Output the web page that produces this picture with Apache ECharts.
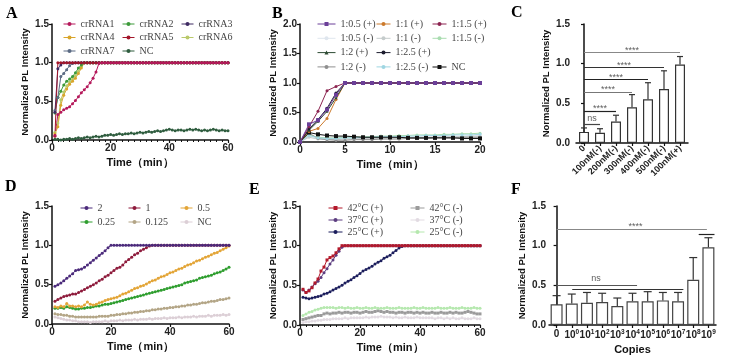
<!DOCTYPE html>
<html>
<head>
<meta charset="utf-8">
<script src="https://cdn.jsdelivr.net/npm/echarts@6/dist/echarts.min.js"></script>
<style>html,body{margin:0;background:#fff}#main{width:730px;height:359px}</style>
</head>
<body>
<div id="main"></div>
<script>
// time points (min)
var minutes60 = [1,2,3,4,5,6,7,8,9,10,11,12,13,14,15,16,17,18,19,20,21,22,23,24,25,26,27,28,29,30,
  31,32,33,34,35,36,37,38,39,40,41,42,43,44,45,46,47,48,49,50,51,52,53,54,55,56,57,58,59,60];
var minutes21 = [0,1,2,3,4,5,6,7,8,9,10,11,12,13,14,15,16,17,18,19,20];

// ---- panel A ----
var crRNA1 = [0.06,0.33,0.36,0.39,0.41,0.43,0.47,0.51,0.56,0.61,
  0.65,0.69,0.74,0.80,0.88,0.99,1,1,1,1,
  1,1,1,1,1,1,1,1,1,1, 1,1,1,1,1,1,1,1,1,1, 1,1,1,1,1,1,1,1,1,1, 1,1,1,1,1,1,1,1,1,1];
var crRNA2 = [0.35,0.55,0.63,0.71,0.76,0.79,0.82,0.87,0.93,0.97,
  1,1,1,1,1,1,1,1,1,1, 1,1,1,1,1,1,1,1,1,1, 1,1,1,1,1,1,1,1,1,1, 1,1,1,1,1,1,1,1,1,1, 1,1,1,1,1,1,1,1,1,1];
var crRNA3 = [0.36,0.92,0.97,1,1,1,1,1,1,1,
  1,1,1,1,1,1,1,1,1,1, 1,1,1,1,1,1,1,1,1,1, 1,1,1,1,1,1,1,1,1,1, 1,1,1,1,1,1,1,1,1,1, 1,1,1,1,1,1,1,1,1,1];
var crRNA4 = [0.08,0.17,0.45,0.58,0.66,0.72,0.76,0.80,0.86,0.93,
  1,1,1,1,1,1,1,1,1,1, 1,1,1,1,1,1,1,1,1,1, 1,1,1,1,1,1,1,1,1,1, 1,1,1,1,1,1,1,1,1,1, 1,1,1,1,1,1,1,1,1,1];
var crRNA5 = [0.05,1,1,1,1,1,1,1,1,1,
  1,1,1,1,1,1,1,1,1,1, 1,1,1,1,1,1,1,1,1,1, 1,1,1,1,1,1,1,1,1,1, 1,1,1,1,1,1,1,1,1,1, 1,1,1,1,1,1,1,1,1,1];
var crRNA6 = [0.10,0.22,0.52,0.62,0.70,0.75,0.79,0.83,0.89,0.95,
  1,1,1,1,1,1,1,1,1,1, 1,1,1,1,1,1,1,1,1,1, 1,1,1,1,1,1,1,1,1,1, 1,1,1,1,1,1,1,1,1,1, 1,1,1,1,1,1,1,1,1,1];
var crRNA7 = [0.38,0.55,0.82,0.86,0.91,0.96,0.99,1,1,1,
  1,1,1,1,1,1,1,1,1,1, 1,1,1,1,1,1,1,1,1,1, 1,1,1,1,1,1,1,1,1,1, 1,1,1,1,1,1,1,1,1,1, 1,1,1,1,1,1,1,1,1,1];
var ncA = [0.01,0.01,0.00,0.01,0.01,0.02,0.01,0.02,0.03,0.02,
  0.03,0.04,0.03,0.04,0.05,0.04,0.05,0.06,0.06,0.07,
  0.06,0.07,0.08,0.07,0.08,0.08,0.09,0.08,0.09,0.10,
  0.09,0.10,0.11,0.10,0.11,0.12,0.11,0.12,0.13,0.14,
  0.13,0.12,0.13,0.13,0.12,0.13,0.14,0.13,0.14,0.13,
  0.12,0.13,0.12,0.13,0.14,0.13,0.12,0.13,0.12,0.12];

// ---- panel B ----
var b05p = [0,0.30,0.37,0.55,0.80,1,1,1,1,1,1,1,1,1,1,1,1,1,1,1,1];
var b1p  = [0,0.18,0.23,0.40,0.72,1,1,1,1,1,1,1,1,1,1,1,1,1,1,1,1];
var b15p = [0,0.26,0.52,0.87,0.94,1,1,1,1,1,1,1,1,1,1,1,1,1,1,1,1];
var b2p  = [0,0.20,0.35,0.52,0.75,1,1,1,1,1,1,1,1,1,1,1,1,1,1,1,1];
var b25p = [0,0.22,0.38,0.57,0.83,1,1,1,1,1,1,1,1,1,1,1,1,1,1,1,1];
var b05m = [0,0.10,0.07,0.06,0.05,0.06,0.06,0.06,0.07,0.07,0.07,0.08,0.08,0.08,0.08,0.09,0.09,0.09,0.09,0.10,0.10];
var b1m  = [0,0.08,0.05,0.04,0.04,0.05,0.05,0.06,0.06,0.06,0.07,0.07,0.07,0.08,0.08,0.08,0.09,0.09,0.09,0.10,0.10];
var b15m = [0,0.12,0.08,0.07,0.07,0.08,0.08,0.09,0.09,0.10,0.10,0.11,0.11,0.12,0.12,0.12,0.13,0.13,0.14,0.14,0.15];
var b2m  = [0,0.15,0.06,0.04,0.03,0.03,0.04,0.04,0.04,0.05,0.05,0.05,0.06,0.06,0.06,0.07,0.07,0.07,0.08,0.08,0.08];
var b25m = [0,0.11,0.07,0.06,0.06,0.07,0.07,0.08,0.08,0.09,0.09,0.09,0.10,0.10,0.11,0.11,0.11,0.12,0.12,0.12,0.13];
var ncB  = [0,0.16,0.13,0.11,0.10,0.10,0.09,0.08,0.08,0.08,0.08,0.08,0.07,0.07,0.07,0.07,0.07,0.07,0.06,0.06,0.06];

// ---- panel C ----
var catC = ['0','100nM(-)','200nM(-)','300nM(-)','400nM(-)','500nM(-)','100nM(+)'];
var meanC = [0.14,0.13,0.27,0.45,0.55,0.68,0.99];
var errTopC = [0.19,0.18,0.35,0.61,0.76,0.91,1.09];
var sigLinesC = [[0,1,0.24],[0,2,0.40],[0,3,0.645],[0,4,0.80],[0,5,0.95],[0,6,1.14]];
var sigTextC = [[0.5,0.31,'ns'],[1.0,0.43,'****'],[1.5,0.675,'****'],[2.0,0.83,'****'],[2.5,0.98,'****'],[3.0,1.17,'****']];

// ---- panel D ----
var d2 = [0.48,0.50,0.52,0.55,0.58,0.61,0.64,0.68,0.69,0.70,
  0.72,0.75,0.78,0.81,0.84,0.87,0.90,0.93,0.97,1,
  1,1,1,1,1,1,1,1,1,1, 1,1,1,1,1,1,1,1,1,1, 1,1,1,1,1,1,1,1,1,1, 1,1,1,1,1,1,1,1,1,1];
var d1 = [0.29,0.31,0.33,0.35,0.36,0.37,0.38,0.38,0.40,0.42,
  0.44,0.46,0.48,0.50,0.52,0.55,0.57,0.60,0.62,0.65,
  0.68,0.71,0.72,0.75,0.79,0.82,0.85,0.88,0.90,0.93,
  0.95,0.97,0.99,1,1,1,1,1,1,1,
  1,1,1,1,1,1,1,1,1,1, 1,1,1,1,1,1,1,1,1,1];
var d05 = [0.22,0.21,0.23,0.22,0.26,0.23,0.23,0.22,0.23,0.22,
  0.24,0.28,0.25,0.24,0.25,0.27,0.28,0.30,0.31,0.32,
  0.33,0.34,0.36,0.38,0.39,0.41,0.43,0.45,0.46,0.48,
  0.49,0.51,0.53,0.55,0.56,0.58,0.60,0.61,0.63,0.65,
  0.66,0.68,0.70,0.71,0.73,0.75,0.76,0.78,0.80,0.81,
  0.83,0.85,0.86,0.88,0.90,0.91,0.93,0.95,0.97,0.99];
var d025 = [0.20,0.20,0.21,0.20,0.22,0.21,0.20,0.19,0.19,0.20,
  0.20,0.21,0.21,0.22,0.23,0.23,0.24,0.25,0.25,0.26,
  0.27,0.28,0.29,0.30,0.31,0.32,0.33,0.34,0.35,0.36,
  0.37,0.38,0.39,0.40,0.41,0.42,0.43,0.44,0.45,0.46,
  0.47,0.48,0.49,0.50,0.52,0.53,0.54,0.55,0.56,0.58,
  0.59,0.60,0.61,0.62,0.64,0.65,0.66,0.68,0.70,0.72];
var d0125 = [0.13,0.12,0.12,0.11,0.11,0.10,0.10,0.09,0.09,0.09,
  0.09,0.09,0.09,0.09,0.09,0.10,0.10,0.10,0.10,0.11,
  0.11,0.12,0.12,0.13,0.13,0.14,0.14,0.15,0.15,0.16,
  0.16,0.17,0.17,0.18,0.18,0.19,0.19,0.20,0.20,0.21,
  0.21,0.22,0.22,0.23,0.23,0.24,0.24,0.25,0.25,0.26,
  0.27,0.27,0.28,0.29,0.29,0.30,0.31,0.31,0.32,0.33];
var ncD = [0.09,0.08,0.07,0.06,0.05,0.05,0.04,0.04,0.03,0.03,
  0.03,0.03,0.02,0.03,0.03,0.03,0.03,0.04,0.03,0.04,
  0.04,0.04,0.05,0.04,0.05,0.05,0.05,0.06,0.05,0.06,
  0.06,0.06,0.07,0.06,0.07,0.07,0.07,0.08,0.07,0.08,
  0.08,0.08,0.09,0.08,0.09,0.09,0.09,0.10,0.09,0.10,
  0.10,0.10,0.11,0.10,0.11,0.11,0.11,0.12,0.11,0.12];

// ---- panel E ----
var e42p = [0.45,0.41,0.43,0.47,0.53,0.58,0.68,0.73,0.82,0.85,
  0.87,0.91,0.96,1,1,1,1,1,1,1,
  1,1,1,1,1,1,1,1,1,1, 1,1,1,1,1,1,1,1,1,1, 1,1,1,1,1,1,1,1,1,1, 1,1,1,1,1,1,1,1,1,1];
var e37p = [0.44,0.41,0.44,0.48,0.52,0.55,0.60,0.66,0.71,0.77,
  0.82,0.88,0.93,0.98,1,1,1,1,1,1,
  1,1,1,1,1,1,1,1,1,1, 1,1,1,1,1,1,1,1,1,1, 1,1,1,1,1,1,1,1,1,1, 1,1,1,1,1,1,1,1,1,1];
var e25p = [0.35,0.34,0.33,0.34,0.35,0.36,0.37,0.39,0.40,0.42,
  0.44,0.46,0.48,0.50,0.53,0.55,0.57,0.60,0.62,0.65,
  0.68,0.70,0.72,0.74,0.77,0.79,0.81,0.84,0.86,0.88,
  0.91,0.94,0.97,0.99,1,1,1,1,1,1,
  1,1,1,1,1,1,1,1,1,1, 1,1,1,1,1,1,1,1,1,1];
var e42m = [0.07,0.08,0.09,0.10,0.11,0.12,0.12,0.14,0.15,0.14,
  0.15,0.15,0.16,0.15,0.16,0.16,0.15,0.16,0.16,0.15,
  0.16,0.17,0.16,0.16,0.17,0.18,0.17,0.16,0.17,0.16,
  0.16,0.15,0.16,0.16,0.15,0.16,0.16,0.15,0.16,0.15,
  0.16,0.15,0.15,0.16,0.15,0.15,0.16,0.15,0.15,0.16,
  0.15,0.16,0.15,0.15,0.16,0.17,0.16,0.15,0.14,0.14];
var e37m = [0.03,0.04,0.04,0.05,0.05,0.06,0.06,0.07,0.07,0.07,
  0.08,0.08,0.08,0.08,0.09,0.08,0.09,0.09,0.09,0.09,
  0.09,0.10,0.09,0.10,0.10,0.10,0.11,0.10,0.10,0.10,
  0.09,0.10,0.09,0.09,0.10,0.09,0.09,0.09,0.10,0.09,
  0.09,0.09,0.09,0.09,0.08,0.09,0.09,0.08,0.09,0.08,
  0.09,0.08,0.08,0.09,0.08,0.08,0.08,0.09,0.08,0.08];
var e25m = [0.12,0.14,0.16,0.17,0.19,0.20,0.21,0.22,0.22,0.22,
  0.22,0.21,0.22,0.22,0.21,0.22,0.21,0.21,0.22,0.21,
  0.21,0.22,0.21,0.21,0.22,0.21,0.21,0.21,0.22,0.21,
  0.21,0.21,0.22,0.21,0.21,0.21,0.21,0.22,0.21,0.21,
  0.22,0.21,0.21,0.21,0.21,0.22,0.21,0.21,0.21,0.22,
  0.21,0.21,0.21,0.22,0.21,0.21,0.21,0.22,0.21,0.21];

// ---- panel F ----
var catF = ['0','10^0','10^1','10^2','10^3','10^4','10^5','10^6','10^7','10^8','10^9'];
var meanF = [0.26,0.27,0.28,0.29,0.24,0.30,0.30,0.31,0.30,0.57,0.98];
var errTopF = [0.37,0.39,0.41,0.40,0.34,0.40,0.42,0.41,0.41,0.85,1.10];
var sigLinesF = [[0,9.9,1.21],[9.36,10.4,1.15],[0,5.3,0.50],[1.03,8.35,0.45]];
var sigTextF = [[5.2,1.24,'****'],[2.6,0.59,'ns']];

var myChart = echarts.init(document.getElementById('main'));

var sans = 'Liberation Sans';
var serif = 'Liberation Serif';

function axisBase(extra) {
  var a = {
    axisLine: { show: true, lineStyle: { color: '#111', width: 1.5 } },
    axisTick: { show: true, length: 3, lineStyle: { color: '#111', width: 1.2 } },
    axisLabel: { fontFamily: sans, fontWeight: 'bold', fontSize: 10, color: '#222', margin: 3 },
    splitLine: { show: false },
    nameTextStyle: { fontFamily: sans, fontWeight: 'bold', fontSize: 11, color: '#111' }
  };
  for (var k in extra) a[k] = extra[k];
  return a;
}
function timeAxis(grid, max, interval, minor) {
  return axisBase({
    type: 'value', gridIndex: grid, min: 0, max: max, interval: interval,
    name: 'Time（min）', nameLocation: 'middle', nameGap: 17,
    minorTick: { show: !!minor, splitNumber: 10, length: 2, lineStyle: { color: '#111', width: 1 } }
  });
}
function intensityAxis(grid, max, offset) {
  return axisBase({
    type: 'value', gridIndex: grid, min: 0, max: max, interval: 0.5, offset: offset || 0,
    name: 'Normalized PL Intensity', nameLocation: 'middle', nameGap: 22,
    nameTextStyle: { fontFamily: sans, fontWeight: 'bold', fontSize: 9.5, color: '#111' },
    axisLabel: { fontFamily: sans, fontWeight: 'bold', fontSize: 10, color: '#222', margin: 3,
      formatter: function (v) { return v.toFixed(1); } }
  });
}
function line(name, xs, ys, color, axis, symbol, size) {
  return {
    name: name, type: 'line', xAxisIndex: axis, yAxisIndex: axis,
    data: xs.map(function (x, i) { return [x, ys[i]]; }),
    symbol: symbol || 'circle', symbolSize: size || 3, showAllSymbol: true,
    lineStyle: { width: 1, color: color }, itemStyle: { color: color },
    emphasis: { disabled: true }
  };
}
function legend(names, left, top, gap, iw) {
  return {
    orient: 'vertical', left: left, top: top, padding: 0, data: names,
    itemWidth: iw || 12, itemHeight: 5, itemGap: gap, selectedMode: false,
    itemStyle: { borderWidth: 0 },
    lineStyle: { width: 1 },
    textStyle: { fontFamily: serif, fontSize: 10, color: '#444', lineHeight: 10 },
    formatter: function (n) { return n.trim(); }
  };
}
function errorBars(grid, means, tops, cap) {
  return {
    type: 'custom', xAxisIndex: grid, yAxisIndex: grid, z: 3,
    data: means.map(function (m, i) { return [i, m, tops[i]]; }),
    encode: { x: 0, y: [1, 2] },
    renderItem: function (params, api) {
      var lo = api.coord([api.value(0), api.value(1)]);
      var hi = api.coord([api.value(0), api.value(2)]);
      var st = { stroke: '#333', lineWidth: 1.2 };
      return { type: 'group', children: [
        { type: 'line', shape: { x1: lo[0], y1: lo[1], x2: hi[0], y2: hi[1] }, style: st },
        { type: 'line', shape: { x1: hi[0] - cap, y1: hi[1], x2: hi[0] + cap, y2: hi[1] }, style: st }
      ] };
    }
  };
}
function sigLines(xAxis, yAxis, segs, colors) {
  return {
    type: 'lines', coordinateSystem: 'cartesian2d', xAxisIndex: xAxis, yAxisIndex: yAxis, z: 4,
    data: segs.map(function (s, i) {
      return { coords: [[s[0], s[2]], [s[1], s[2]]], lineStyle: { color: colors[i], width: 1.2, opacity: 1 } };
    })
  };
}
function sigText(xAxis, yAxis, items) {
  return {
    type: 'scatter', xAxisIndex: xAxis, yAxisIndex: yAxis, symbolSize: 1, z: 5,
    itemStyle: { color: 'rgba(0,0,0,0)' },
    data: items.map(function (t) { return { value: [t[0], t[1]], name: t[2] }; }),
    label: { show: true, position: 'inside', formatter: '{b}', fontFamily: sans, fontSize: 9, color: '#333' },
    labelLayout: { hideOverlap: false }
  };
}

var letterStyle = { fontFamily: serif, fontWeight: 'bold', fontSize: 16, color: '#000' };

option = {
  animation: false,
  backgroundColor: '#fff',
  title: [
    { text: 'A', left: 6, top: 6, padding: 0, textStyle: letterStyle },
    { text: 'B', left: 272, top: 6, padding: 0, textStyle: letterStyle },
    { text: 'C', left: 511, top: 5, padding: 0, textStyle: letterStyle },
    { text: 'D', left: 5, top: 179, padding: 0, textStyle: letterStyle },
    { text: 'E', left: 249, top: 182, padding: 0, textStyle: letterStyle },
    { text: 'F', left: 511, top: 182, padding: 0, textStyle: letterStyle }
  ],
  grid: [
    { left: 52, top: 24, width: 176, height: 116 },
    { left: 300, top: 24, width: 180, height: 118 },
    { left: 576, top: 24, width: 112, height: 119 },
    { left: 52, top: 206, width: 177, height: 118 },
    { left: 300, top: 206, width: 180, height: 119 },
    { left: 549, top: 206, width: 167, height: 119 }
  ],
  xAxis: [
    timeAxis(0, 60, 20, true),
    timeAxis(1, 20, 5, false),
    axisBase({ type: 'category', gridIndex: 2, data: catC,
      axisTick: { show: true, alignWithLabel: true, length: 3, lineStyle: { color: '#111', width: 1.2 } },
      axisLabel: { fontFamily: sans, fontWeight: 'bold', fontSize: 9, color: '#222', rotate: 45, margin: 4, interval: 0 } }),
    timeAxis(3, 60, 20, false),
    timeAxis(4, 60, 20, true),
    axisBase({ type: 'category', gridIndex: 5, data: catF, name: 'Copies', nameLocation: 'middle', nameGap: 19,
      axisTick: { show: true, alignWithLabel: true, length: 3, lineStyle: { color: '#111', width: 1.2 } },
      axisLabel: { fontFamily: sans, fontWeight: 'bold', fontSize: 10, color: '#222', margin: 4, interval: 0,
        formatter: function (v) {
          var p = v.split('^');
          return p.length > 1 ? p[0] + '{s|' + p[1] + '}' : v;
        },
        rich: { s: { fontFamily: sans, fontWeight: 'bold', fontSize: 6.5, color: '#222', verticalAlign: 'top', lineHeight: 12 } } } }),
    { type: 'value', gridIndex: 2, min: -0.5, max: 6.5, show: false },
    { type: 'value', gridIndex: 5, min: -0.5, max: 10.5, show: false }
  ],
  yAxis: [
    intensityAxis(0, 1.5),
    intensityAxis(1, 2.0),
    intensityAxis(2, 1.5, 3),
    intensityAxis(3, 1.5),
    intensityAxis(4, 1.5),
    intensityAxis(5, 1.5)
  ],
  legend: [
    legend(['crRNA1', 'crRNA4', 'crRNA7'], 63, 19, 3.5),
    legend(['crRNA2', 'crRNA5', 'NC'], 122, 19, 3.5),
    legend(['crRNA3', 'crRNA6'], 181, 19, 3.5),
    legend(['1:0.5 (+)', '1:0.5 (-)', '1:2 (+)', '1:2 (-)'], 317, 19, 4.3, 18),
    legend(['1:1 (+)', '1:1 (-)', '1:2.5 (+)', '1:2.5 (-)'], 376, 19, 4.3, 14),
    legend(['1:1.5 (+)', '1:1.5 (-)'], 432, 19, 4.3, 14),
    legend(['NC '], 432, 62, 4.3, 14),
    legend(['2', '0.25'], 80, 203, 4),
    legend(['1', '0.125'], 128, 203, 4),
    legend(['0.5', 'NC  '], 180, 203, 4),
    legend(['42°C (+)', '37°C (+)', '25°C (+)'], 328, 203, 2, 14),
    legend(['42°C (-)', '37°C (-)', '25°C (-)'], 410, 203, 2, 14)
  ],
  series: [
    // A
    line('NC', minutes60, ncA, '#2f5d3f', 0),
    line('crRNA6', minutes60, crRNA6, '#b9c96a', 0),
    line('crRNA4', minutes60, crRNA4, '#d9a52b', 0),
    line('crRNA2', minutes60, crRNA2, '#3d9a3a', 0),
    line('crRNA7', minutes60, crRNA7, '#5b6b84', 0),
    line('crRNA3', minutes60, crRNA3, '#3f2b63', 0),
    line('crRNA5', minutes60, crRNA5, '#a3162a', 0),
    line('crRNA1', minutes60, crRNA1, '#b5195b', 0),
    // B
    line('1:0.5 (-)', minutes21, b05m, '#dfe6ee', 1),
    line('1:1 (-)', minutes21, b1m, '#c5cccc', 1),
    line('1:1.5 (-)', minutes21, b15m, '#a9dcb0', 1),
    line('1:2 (-)', minutes21, b2m, '#8f8f8f', 1),
    line('1:2.5 (-)', minutes21, b25m, '#9fd6e2', 1),
    line('NC ', minutes21, ncB, '#111111', 1, 'rect', 4),
    line('1:1 (+)', minutes21, b1p, '#cc7a2c', 1, 'circle', 3),
    line('1:2 (+)', minutes21, b2p, '#2d4b33', 1, 'triangle', 3),
    line('1:2.5 (+)', minutes21, b25p, '#1c1c2e', 1, 'circle', 3),
    line('1:1.5 (+)', minutes21, b15p, '#8c2450', 1, 'circle', 3),
    line('1:0.5 (+)', minutes21, b05p, '#6b3f98', 1, 'rect', 4),
    // C
    { type: 'bar', xAxisIndex: 2, yAxisIndex: 2, data: meanC, barWidth: 10,
      itemStyle: { color: '#fff', borderColor: '#333', borderWidth: 1.2 } },
    errorBars(2, meanC, errTopC, 3),
    sigLines(6, 2, sigLinesC, ['#444', '#222', '#777', '#222', '#333', '#888']),
    sigText(6, 2, sigTextC),
    // D
    line('NC  ', minutes60, ncD, '#dccfd6', 3),
    line('0.125', minutes60, d0125, '#b3a586', 3),
    line('0.25', minutes60, d025, '#2f9e2f', 3),
    line('0.5', minutes60, d05, '#e3a537', 3),
    line('1', minutes60, d1, '#8e1b3c', 3),
    line('2', minutes60, d2, '#4b2a7b', 3),
    // E
    line('37°C (-)', minutes60, e37m, '#e2dbe2', 4),
    line('42°C (-)', minutes60, e42m, '#9b9b9b', 4, 'rect', 3),
    line('25°C (-)', minutes60, e25m, '#b5e8ae', 4),
    line('25°C (+)', minutes60, e25p, '#1b1d5c', 4),
    line('37°C (+)', minutes60, e37p, '#5c3d80', 4),
    line('42°C (+)', minutes60, e42p, '#b3192b', 4, 'rect', 3),
    // F
    { type: 'bar', xAxisIndex: 5, yAxisIndex: 5, data: meanF, barWidth: 12,
      itemStyle: { color: '#fff', borderColor: '#444', borderWidth: 1.2 } },
    errorBars(5, meanF, errTopF, 4),
    sigLines(7, 5, sigLinesF, ['#888', '#222', '#555', '#333']),
    sigText(7, 5, sigTextF)
  ]
};
myChart.setOption(option);
</script>
</body>
</html>
